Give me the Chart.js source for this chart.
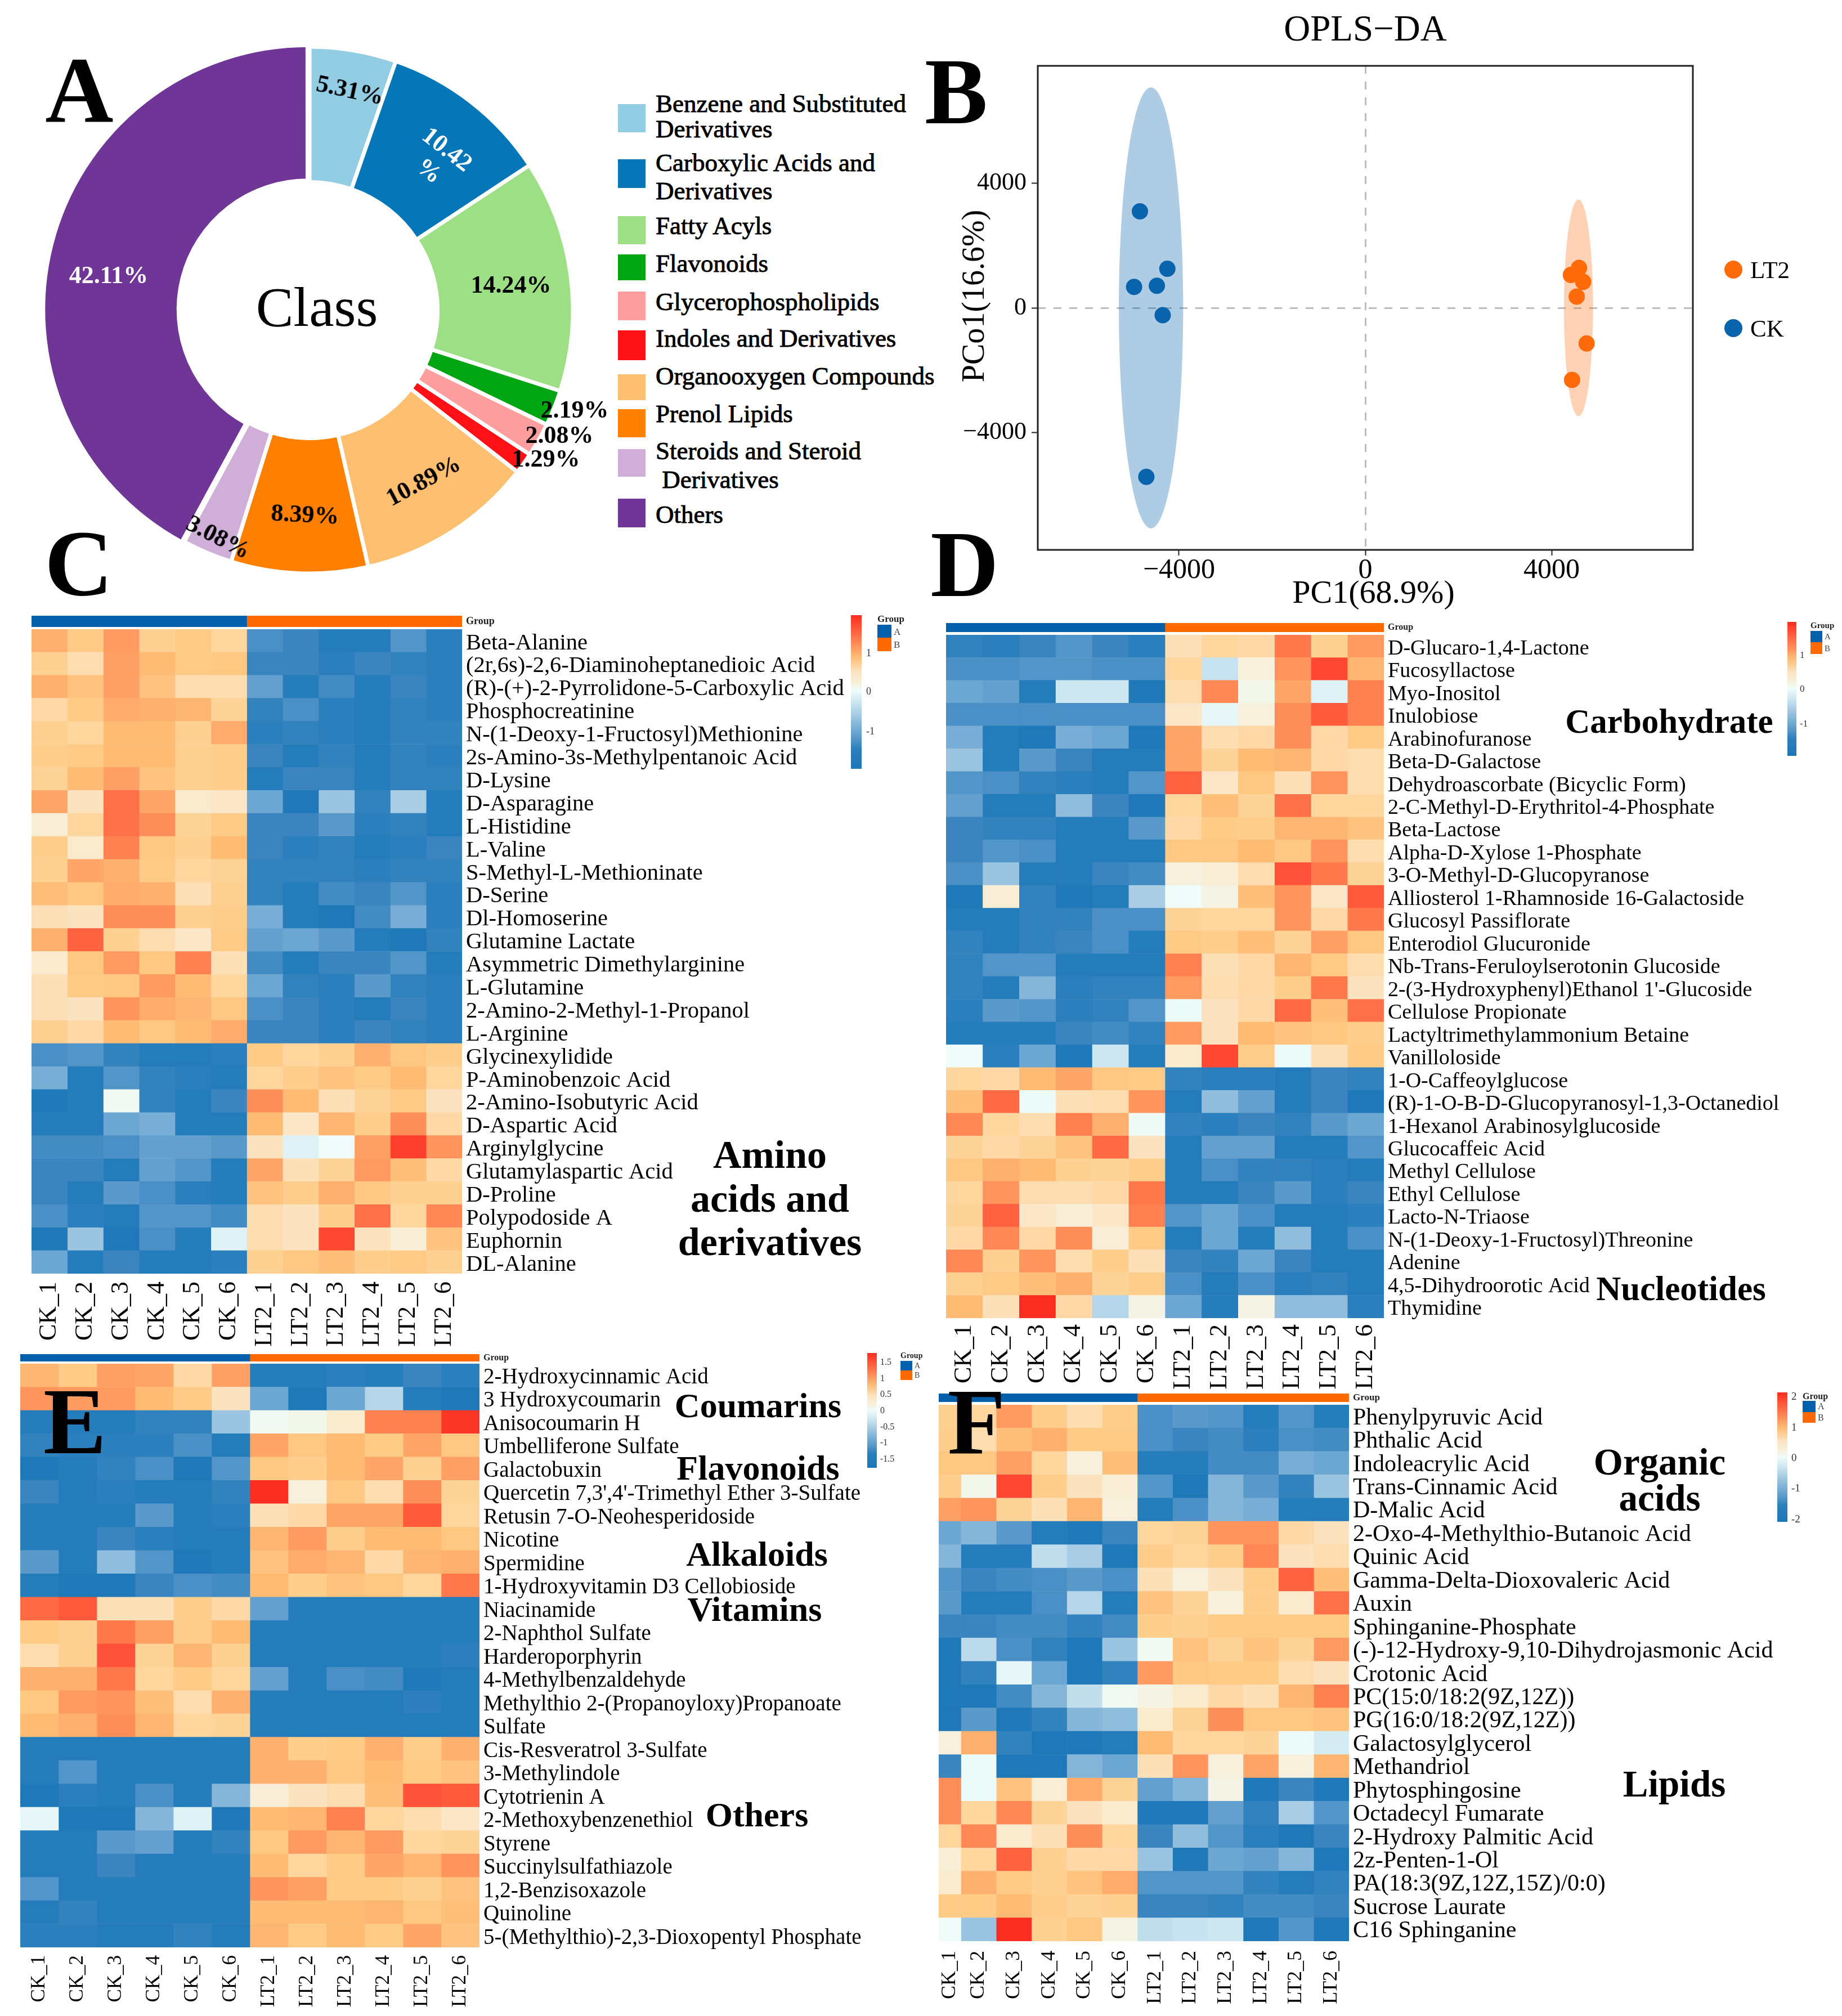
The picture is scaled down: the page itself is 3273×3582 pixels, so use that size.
<!DOCTYPE html>
<html><head><meta charset="utf-8">
<script src="https://cdn.jsdelivr.net/npm/chart.js@4"></script>
<style>
html,body{margin:0;padding:0;background:#fff}
#page{position:relative;width:3273px;height:3582px;overflow:hidden;background:#fff;font-family:"Liberation Serif",serif;color:#000}
#page canvas{position:absolute;display:block}
.t{position:absolute;white-space:pre;line-height:1;z-index:5}
.b{position:absolute;z-index:4}
</style></head><body><div id="page"></div>
<script>
const SERIF='"Liberation Serif"';
// ---------- A: composition ----------
const classNames=['Benzene and Substituted Derivatives','Carboxylic Acids and Derivatives','Fatty Acyls','Flavonoids','Glycerophospholipids','Indoles and Derivatives','Organooxygen Compounds','Prenol Lipids','Steroids and Steroid Derivatives','Others'];
const classValues=[5.31,10.42,14.24,2.19,2.08,1.29,10.89,8.39,3.08,42.11];
const classColors=['#92CDE4','#0577B8','#9CDF85','#00A513','#FF9D9F','#FE1116','#FEBF70','#FF7F00','#CFAFD8','#6F3597'];
// ---------- B: scores ----------
const lt2X=[4589,4414,4677,4539,4752,4439];
const lt2Y=[1281,1058,834,361,-1145,-2314];
const ckX=[-4840,-4251,-4965,-4476,-4351,-4702];
const ckY=[3098,1257,672,709,-236,-5425];
const lt2Ellipse=[4577,0,313,3484];
const ckEllipse=[-4602,0,690,7080];
const xTicks=[-4000,0,4000];
const yTicks=[-4000,0,4000];
// ---------- heatmap columns ----------
const sampleNames=['CK_1','CK_2','CK_3','CK_4','CK_5','CK_6','LT2_1','LT2_2','LT2_3','LT2_4','LT2_5','LT2_6'];
// ---------- C ----------
const rowsC=['Beta-Alanine','(2r,6s)-2,6-Diaminoheptanedioic Acid','(R)-(+)-2-Pyrrolidone-5-Carboxylic Acid','Phosphocreatinine','N-(1-Deoxy-1-Fructosyl)Methionine','2s-Amino-3s-Methylpentanoic Acid','D-Lysine','D-Asparagine','L-Histidine','L-Valine','S-Methyl-L-Methioninate','D-Serine','Dl-Homoserine','Glutamine Lactate','Asymmetric Dimethylarginine','L-Glutamine','2-Amino-2-Methyl-1-Propanol','L-Arginine','Glycinexylidide','P-Aminobenzoic Acid','2-Amino-Isobutyric Acid','D-Aspartic Acid','Arginylglycine','Glutamylaspartic Acid','D-Proline','Polypodoside A','Euphornin','DL-Alanine'];
const valuesC=[
[1.1,.8,1.3,.7,.8,.6,-.9,-1,-1.15,-1.15,-.85,-1.1],
[.7,.5,1.25,1,.8,.85,-1,-1,-1.1,-1,-1.05,-1.1],
[1.1,.9,1.25,.9,.5,.5,-.75,-1.15,-.95,-1.15,-1,-1.1],
[.55,.8,1.15,1.1,1.05,.65,-1.05,-.9,-1.1,-1.15,-1.05,-1.1],
[.7,.6,1,1,.7,1.15,-1.1,-1.05,-1.1,-1.15,-1.05,-1.05],
[.75,.8,1,1,.7,.75,-1,-1.15,-1.05,-1.15,-1.05,-1.1],
[.65,1,1.25,.9,.7,.75,-1.15,-1,-1,-1.15,-1.05,-1.05],
[1.2,.4,1.6,1.2,.3,.35,-.7,-1.2,-.5,-1.05,-.45,-1.15],
[.25,.6,1.6,1.4,.65,.8,-1,-1,-.8,-1.1,-1.05,-1.15],
[.75,.3,1.5,.85,.7,1,-1,-1.1,-1.05,-1.15,-1.1,-1],
[.7,1.2,1.1,.8,.6,.65,-1.05,-1.05,-1.05,-1.1,-1.05,-1.05],
[.95,.85,1.15,1.1,.45,.7,-1.05,-1.15,-.95,-1,-.85,-1.1],
[.45,.4,1.4,1.4,.7,.75,-.65,-1.15,-1.2,-.95,-.65,-1.1],
[1.1,1.7,.7,.5,.35,.8,-.75,-.7,-.8,-1.15,-1.2,-1.05],
[.3,.85,1.3,.85,1.5,.45,-.95,-1.15,-1,-1,-.85,-1.15],
[.45,.8,.85,1.3,1,.6,-.7,-1.05,-1.1,-.8,-1.05,-1.1],
[.45,.4,1.35,1.15,1.05,.85,-.9,-1,-1.1,-1.15,-1,-1.1],
[.7,.55,1,.85,1,1.15,-1,-1,-1.1,-1,-1.05,-1.1],
[-.9,-.85,-1.05,-1.15,-1.15,-1.1,.8,.6,.7,1.1,.85,.75],
[-.65,-1.15,-.85,-1.05,-1.1,-1.15,.6,.75,.9,.8,1,.6],
[-1.2,-1.15,.05,-1.05,-1.15,-1,1.4,1,.45,.65,.8,.4],
[-1.15,-1.15,-.7,-.65,-1.15,-1.15,1,.35,1.05,.75,1.4,.55],
[-.95,-.95,-.9,-.75,-.75,-.8,.4,-.1,0,1.25,1.9,1.35],
[-1,-1,-1.15,-.75,-.85,-1.15,1.2,.45,.65,1.3,.95,.55],
[-1,-1.15,-.8,-.9,-1.1,-1.15,.9,.75,1.1,.85,.7,.7],
[-.9,-1.1,-1.15,-.85,-.85,-.95,.5,.4,.75,1.6,.6,1.45],
[-1.2,-.5,-1.2,-.9,-1.15,-.1,.5,.4,1.85,.4,.25,.9],
[-.7,-1.15,-1,-1.15,-1.15,-1.1,.7,.85,.95,.75,.8,.7]];
// ---------- D ----------
const rowsD=['D-Glucaro-1,4-Lactone','Fucosyllactose','Myo-Inositol','Inulobiose','Arabinofuranose','Beta-D-Galactose','Dehydroascorbate (Bicyclic Form)','2-C-Methyl-D-Erythritol-4-Phosphate','Beta-Lactose','Alpha-D-Xylose 1-Phosphate','3-O-Methyl-D-Glucopyranose','Alliosterol 1-Rhamnoside 16-Galactoside','Glucosyl Passiflorate','Enterodiol Glucuronide','Nb-Trans-Feruloylserotonin Glucoside',"2-(3-Hydroxyphenyl)Ethanol 1'-Glucoside",'Cellulose Propionate','Lactyltrimethylammonium Betaine','Vanilloloside','1-O-Caffeoylglucose','(R)-1-O-B-D-Glucopyranosyl-1,3-Octanediol','1-Hexanol Arabinosylglucoside','Glucocaffeic Acid','Methyl Cellulose','Ethyl Cellulose','Lacto-N-Triaose','N-(1-Deoxy-1-Fructosyl)Threonine','Adenine','4,5-Dihydroorotic Acid','Thymidine'];
const valuesD=[
[-1.05,-1.1,-1,-.85,-1,-1.1,.45,.6,.55,1.55,.7,1.3],
[-.9,-.9,-.85,-.85,-.9,-.9,.6,-.25,.2,1.35,1.85,1.05],
[-.7,-.75,-1.15,-.2,-.2,-1.2,.5,1.45,.1,1.2,-.1,1.5],
[-.9,-.9,-.9,-.9,-.9,-.9,.35,-.05,.2,1.4,1.75,1.5],
[-.65,-1.15,-1.2,-.65,-.7,-1.2,1.2,.5,.55,1.4,.55,.8],
[-.5,-1.15,-.8,-1,-1.15,-1.15,1.2,.65,1,1.05,.55,.5],
[-.85,-.9,-1.05,-1.1,-1.15,-.85,1.7,.35,.85,.45,1.35,.5],
[-.75,-1.15,-1.15,-.55,-1,-1.2,.6,.95,.65,1.6,.6,.6],
[-1,-1.05,-1.05,-1.15,-1.15,-.8,.55,.8,.75,1.05,1.05,.9],
[-1,-.85,-.9,-1.15,-1.15,-1.15,.85,.85,1,.85,1.35,.5],
[-.9,-.5,-1.15,-1.15,-1,-.95,.2,.25,.5,1.8,1.55,.65],
[-1.2,.25,-1.05,-1.2,-1.15,-.45,0,.15,.95,1.35,.35,1.75],
[-1.15,-1.15,-1.05,-1.05,-.9,-.9,.65,.6,.6,1.35,.55,1.55],
[-1.05,-1.15,-1.05,-1,-.9,-1.15,.8,.75,.95,.65,1.25,.85],
[-1.05,-.85,-.85,-1.15,-1.15,-1.15,1.5,.45,.55,1.05,.8,.5],
[-1.05,-1.15,-.6,-1.1,-1.05,-1.05,1.3,.5,.55,.75,1.55,.4],
[-1.1,-.8,-.85,-1.1,-1.05,-.85,-.02,.4,.55,1.65,.95,1.6],
[-1.15,-1.15,-1.15,-1,-.95,-1.05,1.3,.4,1,.9,.85,.75],
[0,-1.1,-.7,-1.2,-.2,-1.15,.3,1.85,.75,-.02,.45,.8],
[.6,.55,1,1.2,.85,.8,-1.05,-1.1,-1.1,-1.15,-1,-1.05],
[.95,1.65,-.02,.45,.5,1.35,-1.15,-.55,-.75,-1.15,-1,-1.2],
[1.45,.6,.5,1.5,1.1,.02,-1.05,-1.1,-1,-1.05,-.8,-.7],
[.65,.55,.65,.9,1.65,.4,-1.15,-.75,-.75,-1.15,-1.15,-.85],
[.85,1.1,1,.7,.65,.75,-1.15,-.9,-1.05,-1.05,-1.1,-1.15],
[.6,1.35,.5,.5,.55,1.55,-1.15,-1.15,-1,-.8,-1.1,-1],
[.65,1.7,.35,.25,.35,1.5,-.85,-.7,-.9,-1.15,-1.15,-1.1],
[.55,1.45,.55,1.4,.25,.8,-1.15,-.7,-1.15,-.55,-1.15,-.9],
[1.45,.7,1.35,.5,.75,.45,-1,-1.05,-.7,-1,-1.15,-1.15],
[.7,.8,.95,1.1,.65,.75,-.9,-1.15,-.9,-1.1,-1.05,-1.15],
[1,.45,2,.55,-.4,.15,-.7,-1.15,.15,-.55,-.55,-1.1]];
// ---------- E ----------
const rowsE=['2-Hydroxycinnamic Acid','3 Hydroxycoumarin','Anisocoumarin H','Umbelliferone Sulfate','Galactobuxin',"Quercetin 7,3',4'-Trimethyl Ether 3-Sulfate",'Retusin 7-O-Neohesperidoside','Nicotine','Spermidine','1-Hydroxyvitamin D3 Cellobioside','Niacinamide','2-Naphthol Sulfate','Harderoporphyrin','4-Methylbenzaldehyde','Methylthio 2-(Propanoyloxy)Propanoate','Sulfate','Cis-Resveratrol 3-Sulfate','3-Methylindole','Cytotrienin A','2-Methoxybenzenethiol','Styrene','Succinylsulfathiazole','1,2-Benzisoxazole','Quinoline','5-(Methylthio)-2,3-Dioxopentyl Phosphate'];
const valuesE=[
[1.05,.8,1.25,1.2,.55,1.25,-1.15,-1.15,-1.1,-1.15,-1,-1.1],
[1.35,1.3,1.3,1,.8,.4,-.7,-1.2,-.7,-.4,-1.15,-1.25],
[-1.15,-1.15,-1.15,-1.05,-1.05,-.5,.05,.1,.3,1.5,1.5,1.95],
[-1.05,-1.1,-1.1,-1.1,-.9,-1.15,1.2,.85,1,.8,1.2,.85],
[-1.2,-1.15,-1.05,-.9,-1.2,-.85,.85,.75,1,1.2,.7,1.25],
[-1,-1.15,-1.1,-1.15,-1.15,-1.05,2,.2,.85,.5,1.4,.65],
[-1.15,-1.15,-1.15,-.8,-1.15,-1.1,.45,.55,1.2,1.2,1.75,.6],
[-1.15,-1.15,-1,-1.1,-1.15,-1.15,1.05,1.3,.75,1,1,.85],
[-.8,-1.15,-.55,-.85,-1.2,-1.15,.9,1.15,1.05,.55,1.05,1.1],
[-1.15,-1.2,-1.2,-1,-.9,-.95,1,.75,.9,.85,.6,1.55],
[1.65,1.75,.45,.45,.75,.55,-.75,-1.15,-1.15,-1.15,-1.15,-1.15],
[.8,.7,1.55,1.25,.75,1,-1.15,-1.15,-1.15,-1.15,-1.15,-1.15],
[.5,.7,1.8,.65,1.05,.7,-1.15,-1.15,-1.15,-1.15,-1.15,-1.08],
[1.1,1.1,1.55,.6,.8,.6,-.75,-1.15,-.9,-.95,-1.18,-1.15],
[.85,1.3,1.35,.95,.5,1.1,-1.15,-1.15,-1.15,-1.15,-1.08,-1.15],
[1,1.1,1.4,1.05,.6,.65,-1.15,-1.15,-1.15,-1.15,-1.15,-1.15],
[-1.15,-1.15,-1.15,-1.15,-1.15,-1.15,1.1,.75,.8,1.1,.75,1.1],
[-1.15,-.85,-1.15,-1.15,-1.15,-1.15,1.1,1.1,.85,1,.8,.9],
[-1.2,-1.1,-1.15,-.9,-1.15,-.6,.25,.4,.5,.95,1.8,1.75],
[-.05,-1.2,-1.2,-.6,-.1,-1.2,1,1.05,1.5,.6,.5,.35],
[-1.15,-1.15,-.8,-.75,-1.15,-1.05,.85,1.3,1.05,1.3,.6,.65],
[-1.15,-1.15,-1,-1.15,-1.15,-1.15,1,.6,.8,1.2,1.05,1.35],
[-.85,-1.15,-1.15,-1.15,-1.15,-1.15,1.35,1.25,.8,.8,.7,.9],
[-1.15,-1.05,-1.15,-1.15,-1.15,-1.15,1,1,1,1.05,.85,.95],
[-1.1,-1.1,-1.15,-1.15,-1.05,-1.15,1.05,.8,1,.8,1.2,.9]];
// ---------- F ----------
const rowsF=['Phenylpyruvic Acid','Phthalic Acid','Indoleacrylic Acid','Trans-Cinnamic Acid','D-Malic Acid','2-Oxo-4-Methylthio-Butanoic Acid','Quinic Acid','Gamma-Delta-Dioxovaleric Acid','Auxin','Sphinganine-Phosphate','(-)-12-Hydroxy-9,10-Dihydrojasmonic Acid','Crotonic Acid','PC(15:0/18:2(9Z,12Z))','PG(16:0/18:2(9Z,12Z))','Galactosylglycerol','Methandriol','Phytosphingosine','Octadecyl Fumarate','2-Hydroxy Palmitic Acid','2z-Penten-1-Ol','PA(18:3(9Z,12Z,15Z)/0:0)','Sucrose Laurate','C16 Sphinganine'];
const valuesF=[
[.7,.6,1.3,.75,.5,.75,-.9,-.8,-.85,-1.15,-.85,-1.15],
[.75,.5,.95,1.1,.8,.8,-.9,-1,-.95,-1.1,-.9,-.95],
[.85,.85,1.25,.6,.2,.95,-1.15,-1.15,-.95,-.95,-.65,-.7],
[.75,.1,1.85,.75,.4,.25,-.85,-1.2,-.6,-.8,-1.05,-.5],
[1.25,1.35,.65,.45,1.05,.2,-1.15,-.9,-.6,-.65,-1.15,-1.15],
[-.7,-.6,-.8,-1.15,-1.2,-1,.6,.65,1.35,1.35,.55,.4],
[-.6,-1.15,-1.15,-.3,-.45,-1.2,.75,.6,.75,1.45,.4,.5],
[-.85,-1,-.95,-.9,-.8,-.9,.45,.2,.4,.75,1.7,.95],
[-.8,-1.15,-1.15,-.9,-.4,-1.15,.9,.65,.2,.75,.3,1.6],
[-1,-1,-.95,-.95,-1.05,-.95,.75,.7,.8,.8,.8,.8],
[-1.2,-.35,-.9,-1.05,-1.2,-.5,.05,.9,.65,.9,.65,1.3],
[-1.2,-1.05,-.05,-.7,-1.2,-1.05,1.3,.85,.8,.8,.5,.4],
[-1.2,-1.2,-.95,-.6,-.3,.05,.15,.3,.55,.45,1.05,1.5],
[-1.2,-.8,-1.2,-1.05,-.6,-.55,.3,.65,1.4,.85,.85,.9],
[.2,1.1,-1.05,-1.2,-1.2,-1.15,1,.6,.6,.65,-.02,-.15],
[-1,-.02,-1.2,-1.2,-.6,-.7,.45,1.35,.2,1.2,.2,1.05],
[1.4,-.02,.9,.25,1.15,.65,-.75,-.6,.15,-1.2,-1,-1.2],
[1.4,.6,1.45,.65,.4,.3,-1.2,-1.2,-.75,-1.05,-.45,-.85],
[.6,1.45,.3,.45,1.4,.6,-1,-.55,-.85,-1.1,-1.2,-1],
[.25,.6,1.7,.7,.55,.55,-.5,-1.2,-.7,-.75,-.6,-1.2],
[.3,1.1,.8,.7,.9,1.15,-.85,-.85,-.85,-1.05,-1.15,-1.05],
[.8,.8,1,.75,.65,.7,-1,-1,-1.05,-.95,-.95,-1],
[0,-.5,2,.7,.85,.15,-.3,-.25,-.2,-1.2,-.85,-1.2]];

// ---------- colour ramp (cell value -> colour) ----------
const rampStops=[[-2,'#1C76B7'],[-1.2,'#1F78B8'],[-1.1,'#2A7FBC'],[-1,'#3A85BF'],[-.9,'#4A90C6'],[-.8,'#5A9ACB'],[-.7,'#6CA6D2'],[-.6,'#85B5D8'],[-.5,'#9AC4DF'],[-.4,'#B5D5E8'],[-.2,'#CDE7F1'],[0,'#EFFCFA'],[.2,'#F7F0DC'],[.4,'#FCE3C0'],[.6,'#FED69E'],[.8,'#FECB87'],[1,'#FDBB74'],[1.2,'#FEA568'],[1.4,'#FF8F5A'],[1.6,'#FF7249'],[1.8,'#FF5238'],[2,'#FB2C20']];
function hex(c){return [1,3,5].map(i=>parseInt(c.substr(i,2),16));}
function ramp(v){
  for(let i=1;i<rampStops.length;i++){
    if(v<=rampStops[i][0]){
      const [a,ca]=rampStops[i-1],[b,cb]=rampStops[i],t=Math.max(0,(v-a)/(b-a));
      const A=hex(ca),B=hex(cb);
      return 'rgb('+A.map((x,k)=>Math.round(x+(B[k]-x)*t)).join(',')+')';
    }
  }
  return rampStops[rampStops.length-1][1];
}
const GROUP_A='#0560AB',GROUP_B='#FF6A00';
const page=document.getElementById('page');
Chart.defaults.animation=false;
Chart.defaults.responsive=false;
Chart.defaults.devicePixelRatio=1;
Chart.defaults.font.family=SERIF;
Chart.defaults.color='#000';
Chart.defaults.plugins.legend.display=false;
Chart.defaults.plugins.tooltip.enabled=false;

function mk(l,t,w,h){const c=document.createElement('canvas');c.width=w;c.height=h;c.style.left=l+'px';c.style.top=t+'px';c.style.width=w+'px';c.style.height=h+'px';page.appendChild(c);return c;}
function txt(s,cx,cy,o={}){const d=document.createElement('div');d.className='t';d.textContent=s;
  d.style.font=(o.weight||'normal')+' '+(o.size||40)+'px '+SERIF;d.style.lineHeight='1';d.style.color=o.color||'#000';
  if(o.stroke)d.style.webkitTextStroke=o.stroke+'px '+(o.color||'#000');
  d.style.left=cx+'px';d.style.top=cy+'px';
  const ax=o.left?'0':'-50%';
  d.style.transform='translate('+ax+',-50%)'+(o.rot?' rotate('+o.rot+'deg)':'');
  page.appendChild(d);return d;}
function box(l,t,w,h,bg){const d=document.createElement('div');d.className='b';d.style.cssText+='left:'+l+'px;top:'+t+'px;width:'+w+'px;height:'+h+'px;background:'+bg;page.appendChild(d);return d;}

// ---- A doughnut ----
const dCx=550,dCy=551,dHalf=500;
new Chart(mk(dCx-dHalf,dCy-dHalf,dHalf*2,dHalf*2),{type:'doughnut',
 data:{labels:classNames,datasets:[{data:classValues,backgroundColor:classColors,borderColor:'#fff',borderWidth:7,offset:classValues.map((v,i)=>i===9?14:0)}]},
 options:{radius:468,cutout:238,plugins:{legend:{display:false}}}});
const labelLayout=[[622,160,12,'#000'],null,[908,506,0,'#000'],[1021,728,0,'#000'],[994,773,0,'#000'],[970,815,0,'#000'],[752,854,-28,'#000'],[542,914,3,'#000'],[388,954,27,'#000'],[193,489,0,'#fff']];
classValues.forEach((v,i)=>{const L=labelLayout[i];if(L)txt(v.toFixed(2)+'%',L[0],L[1],{size:44,weight:'bold',rot:L[2],color:L[3]});});
txt(classValues[1].toFixed(2),795,265,{size:44,weight:'bold',rot:38,color:'#fff'});
txt('%',763,303,{size:44,weight:'bold',rot:38,color:'#fff'});
txt('Class',563,546,{size:100});
const legendSwatch=[[185,50],[283,51],[384,50],[452,46],[518,51],[587,53],[665,46],[727,50],[798,49],[886,51]];
const legendLines=[[['Benzene and Substituted',184],['Derivatives',229]],[['Carboxylic Acids and',289],['Derivatives',339]],[['Fatty Acyls',401]],[['Flavonoids',468]],[['Glycerophospholipids',536]],[['Indoles and Derivatives',601]],[['Organooxygen Compounds',668]],[['Prenol Lipids',735]],[['Steroids and Steroid',801],[' Derivatives',852]],[['Others',914]]];
classColors.forEach((c,i)=>{box(1098,legendSwatch[i][0],49,legendSwatch[i][1],c);legendLines[i].forEach(L=>txt(L[0],1165,L[1],{size:45,stroke:.9,left:true}));});

// ---- B scatter ----
const ellipsePlugin={id:'ell',beforeDatasetsDraw(ch){const {x,y}=ch.scales,ctx=ch.ctx;
  [[ckEllipse,'rgba(10,100,173,.33)'],[lt2Ellipse,'rgba(255,106,11,.3)']].forEach(([e,col])=>{
    const cx=x.getPixelForValue(e[0]),cy=y.getPixelForValue(e[1]);
    const rx=Math.abs(x.getPixelForValue(e[0]+e[2])-cx),ry=Math.abs(y.getPixelForValue(e[1]+e[3])-cy);
    ctx.save();ctx.fillStyle=col;ctx.beginPath();ctx.ellipse(cx,cy,rx,ry,0,0,Math.PI*2);ctx.fill();ctx.restore();});},
  afterDatasetsDraw(ch){const a=ch.chartArea,ctx=ch.ctx;ctx.save();ctx.strokeStyle='#222';ctx.lineWidth=3;ctx.strokeRect(a.left,a.top,a.right-a.left,a.bottom-a.top);ctx.restore();}};
const fmt=v=>v<0?'\u2212'+(-v):String(v);
const zeroLine=c=>(c.tick&&c.tick.value===0)?'#BDBDBD':'rgba(0,0,0,0)';
new Chart(mk(1690,0,1472,1090),{type:'scatter',plugins:[ellipsePlugin],
 data:{datasets:[
  {label:'LT2',data:lt2X.map((x,i)=>({x,y:lt2Y[i]})),backgroundColor:'#FF6A0B',pointRadius:14.5,borderWidth:0},
  {label:'CK',data:ckX.map((x,i)=>({x,y:ckY[i]})),backgroundColor:'#0A64AD',pointRadius:14.5,borderWidth:0}]},
 options:{
  plugins:{title:{display:true,text:'OPLS\u2212DA',color:'#000',font:{size:65,weight:'normal',lineHeight:1},padding:{top:22,bottom:30}}},
  scales:{
   x:{type:'linear',min:-7033,max:7033,afterBuildTicks:s=>{s.ticks=xTicks.map(v=>({value:v}));},afterFit:s=>{s.height=113;},
      grid:{color:zeroLine,lineWidth:3,tickColor:'#222',tickLength:10,tickWidth:2},border:{display:false,dash:[14,14]},
      ticks:{font:{size:50,lineHeight:1},padding:2,callback:fmt,maxRotation:0},
      title:{display:true,text:'\u00A0\u00A0PC1(68.9%)',font:{size:58,lineHeight:1},padding:{top:5,bottom:5}}},
   y:{type:'linear',min:-7770,max:7770,afterBuildTicks:s=>{s.ticks=yTicks.map(v=>({value:v}));},afterFit:s=>{s.width=154;},
      grid:{color:zeroLine,lineWidth:3,tickColor:'#222',tickLength:11,tickWidth:2},border:{display:false,dash:[14,14]},
      ticks:{font:{size:44,lineHeight:1},padding:9,callback:fmt},
      title:{display:true,text:'\u00A0\u00A0\u00A0PCo1(16.6%)',font:{size:56,lineHeight:1},padding:{top:15,bottom:0}}},
   spacer:{type:'linear',position:'right',display:true,afterFit:s=>{s.width=154;},grid:{display:false},border:{display:false},ticks:{display:false}}
  }}});
[['LT2',479,'#FF6A0B'],['CK',583,'#0A64AD']].forEach(([s,y,c])=>{const d=box(3064,y-16,32,32,c);d.style.borderRadius='50%';txt(s,3110,y,{size:43,left:true});});

// ---- heatmaps ----
function heatmap(cfg){
  const {rows,values,x0,y0,x1,y1,barTop,barBottom,labelW,rowFont,colFont,colPad,groupFont,rowPad,rowShift,xMin=0}=cfg;
  const w=x1-x0+labelW,colH=140,pad=30;
  new Chart(mk(x0,y0-pad,w,y1-y0+colH+pad),{type:'bar',
   data:{labels:rows,datasets:sampleNames.map((n,c)=>({label:n,data:rows.map(()=>1),backgroundColor:values.map(r=>ramp(r[c])),barPercentage:1,categoryPercentage:1,borderWidth:0}))},
   options:{indexAxis:'y',layout:{padding:{top:pad}},
    scales:{
     x:{type:'linear',min:xMin,max:12,stacked:true,position:'bottom',grid:{display:false},border:{display:false},afterFit:s=>{s.height=colH;},
        afterBuildTicks:s=>{s.ticks=sampleNames.map((n,i)=>({value:i===0?(xMin+1)/2:i+.5}));},
        ticks:{font:{size:colFont,lineHeight:1},autoSkip:false,minRotation:90,maxRotation:90,padding:colPad,callback:(v,i)=>sampleNames[i]}},
     y:{type:'category',position:'right',offset:true,stacked:true,grid:{display:false,drawTicks:false},border:{display:false},afterFit:s=>{s.width=labelW;},
        ticks:{font:{size:rowFont,lineHeight:1},autoSkip:false,padding:rowPad,labelOffset:rowShift}}
    }}});
  new Chart(mk(x0,barTop-pad,w,barBottom-barTop+pad*2),{type:'bar',
   data:{labels:['Group'],datasets:[{label:'A',data:[6],backgroundColor:GROUP_A,barPercentage:1,categoryPercentage:1,borderWidth:0},{label:'B',data:[6],backgroundColor:GROUP_B,barPercentage:1,categoryPercentage:1,borderWidth:0}]},
   options:{indexAxis:'y',layout:{padding:{top:pad,bottom:pad}},
    scales:{x:{type:'linear',min:xMin,max:12,stacked:true,display:false},
     y:{type:'category',position:'right',offset:true,stacked:true,grid:{display:false,drawTicks:false},border:{display:false},afterFit:s=>{s.width=labelW;},
        ticks:{font:{size:groupFont,weight:'bold',lineHeight:1},padding:rowPad,color:'#222'}}}}});
}
heatmap({rows:rowsC,values:valuesC,x0:56,y0:1118,x1:821,y1:2263,barTop:1094,barBottom:1114,labelW:760,rowFont:40.5,colFont:44,colPad:6,groupFont:18,rowPad:7,rowShift:4.5});
heatmap({rows:rowsD,values:valuesD,x0:1681,y0:1128,x1:2459,y1:2342,barTop:1107,barBottom:1123,labelW:800,rowFont:38,colFont:44,colPad:3,groupFont:16,rowPad:7,rowShift:4.5});
heatmap({rows:rowsE,values:valuesE,x0:36,y0:2423,x1:852,y1:3460,barTop:2406,barBottom:2419,labelW:800,rowFont:39,colFont:35,colPad:6,groupFont:16,rowPad:7,rowShift:4});
heatmap({rows:rowsF,values:valuesF,x0:1668,y0:2496,x1:2397,y1:3449,barTop:2476,barBottom:2491,labelW:800,rowFont:42,colFont:36,colPad:9,groupFont:17,rowPad:7,rowShift:3,xMin:.37});

// ---- colour bars ----
function colorbar(c){
  const f=c.f; // fraction of height where zero lies
  const top=[[0,'#FB2C20'],[.28,'#FF7249'],[.55,'#FDBB74'],[.75,'#FCE3C0'],[.9,'#F7F0DC'],[1,'#EFFCFA']];
  const bot=[[.15,'#CDE7F1'],[.35,'#9AC4DF'],[.6,'#5A9ACB'],[.75,'#2A7FBC'],[1,'#1C76B7']];
  const st=top.map(([p,col])=>col+' '+(p*f*100).toFixed(1)+'%').concat(bot.map(([p,col])=>col+' '+((f+p*(1-f))*100).toFixed(1)+'%'));
  box(c.x,c.y,c.w,c.h,'linear-gradient(to bottom,'+st.join(',')+')');
  c.ticks.forEach(([s,y])=>txt(s,c.tx,y,{size:c.ts,left:true,color:'#333'}));
  txt('Group',c.gx,c.gy,{size:c.gs,weight:'bold',left:true,color:'#222'});
  box(c.gx,c.s0,c.sw,c.s1-c.s0,GROUP_A);box(c.gx,c.s1,c.sw,c.s2-c.s1,GROUP_B);
  txt('A',c.gx+c.sw+4,(c.s0+c.s1)/2,{size:c.gs,left:true,color:'#444'});
  txt('B',c.gx+c.sw+4,(c.s1+c.s2)/2,{size:c.gs,left:true,color:'#444'});
}
colorbar({x:1512,y:1093,w:19,h:273,f:.49,tx:1539,ts:18,ticks:[['1',1160],['0',1228],['-1',1299]],gx:1559,gy:1099,gs:17,s0:1110,s1:1133,s2:1157,sw:25});
colorbar({x:3176,y:1105,w:16,h:238,f:.5,tx:3198,ts:17,ticks:[['1',1163],['0',1223],['-1',1285]],gx:3217,gy:1111,gs:15,s0:1121,s1:1141,s2:1162,sw:21});
colorbar({x:1541,y:2404,w:17,h:204,f:.5,tx:1564,ts:16,ticks:[['1.5',2420],['1',2449],['0.5',2477],['0',2506],['-0.5',2535],['-1',2563],['-1.5',2592]],gx:1600,gy:2409,gs:14,s0:2418,s1:2435,s2:2452,sw:21});
colorbar({x:3158,y:2474,w:18,h:230,f:.5,tx:3183,ts:19,ticks:[['2',2480],['1',2535],['0',2589],['-1',2643],['-2',2698]],gx:3203,gy:2481,gs:16,s0:2489,s1:2509,s2:2528,sw:23});

// ---- annotation text ----
[['Amino',1368,2052,70],['acids and',1368,2130,70],['derivatives',1368,2207,70],['Carbohydrate',2966,1281,61],['Nucleotides',2987,2289,61],
 ['Coumarins',1347,2497,62],['Flavonoids',1347,2608,62],['Alkaloids',1345,2761,62],['Vitamins',1341,2859,62],['Others',1345,3224,62],
 ['Organic',2949,2597,67],['acids',2949,2661,67],['Lipids',2975,3169,67]].forEach(([s,x,y,sz])=>txt(s,x,y,{size:sz,weight:'bold'}));
[['A',141,160],['B',1699,162],['C',140,1000],['D',1714,1002],['E',133,2525],['F',1735,2526]].forEach(([s,x,y])=>txt(s,x,y,{size:168,weight:'bold'}));
</script></body></html>
